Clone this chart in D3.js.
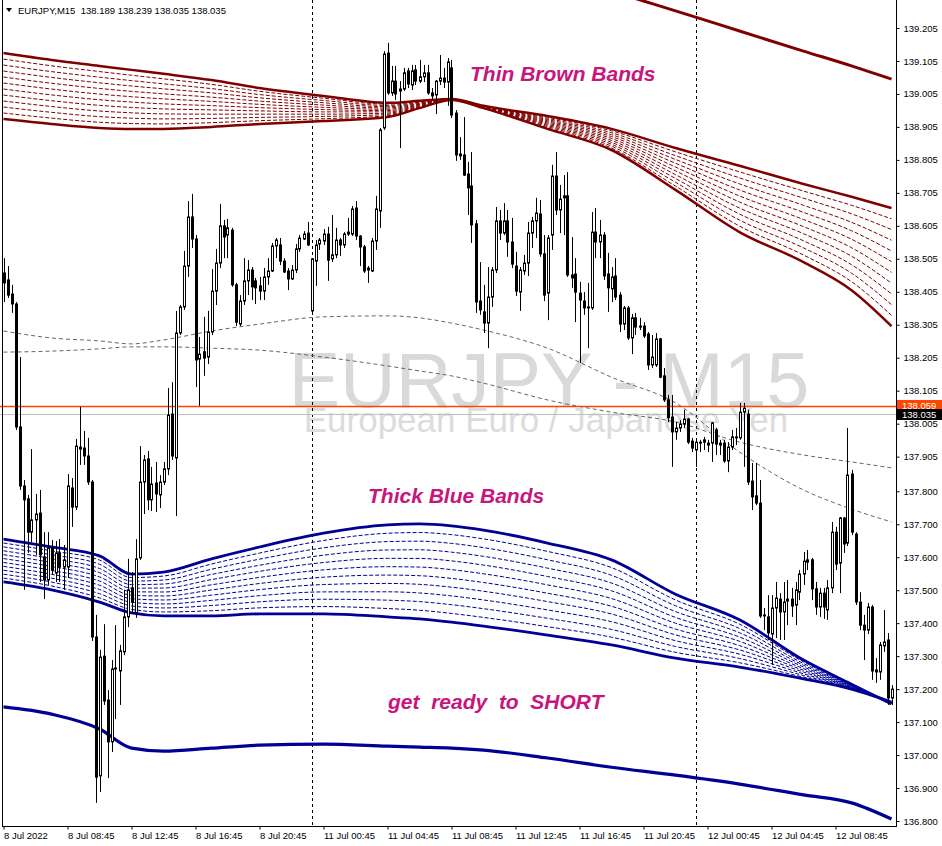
<!DOCTYPE html>
<html>
<head>
<meta charset="utf-8">
<script src="https://cdn.jsdelivr.net/npm/d3@7"></script>
<style>
html, body { margin: 0; padding: 0; background: #fff; }
svg { display: block; font-family: "Liberation Sans", Arial, sans-serif; }
</style>
</head>
<body>
<svg id="chart" width="942" height="846"></svg>
<script>
// EURJPY M15 candles, one per bar index (0 = 8 Jul 04:45)
const open = [
138.462,138.441,138.398,138.368,137.995,137.816,137.777,137.676,137.713,137.734,
137.601,137.531,137.628,137.552,137.613,137.570,137.570,137.810,137.752,137.928,
137.931,137.907,137.828,137.358,136.937,137.300,137.167,137.040,137.261,137.255,
137.313,137.419,137.507,137.431,137.598,137.828,137.898,137.774,137.825,137.789,
137.828,137.868,138.034,137.901,138.280,138.359,138.483,138.632,138.565,138.201,
138.223,138.207,138.283,138.407,138.492,138.605,138.577,138.592,138.426,138.307,
138.377,138.438,138.471,138.438,138.423,138.407,138.450,138.468,138.544,138.547,
138.498,138.468,138.444,138.471,138.535,138.565,138.583,138.347,138.498,138.550,
138.559,138.580,138.505,138.517,138.562,138.547,138.580,138.580,138.659,138.574,
138.541,138.477,138.468,138.559,138.650,138.902,139.129,139.008,139.044,139.014,
139.020,139.075,139.032,139.078,139.044,139.057,139.069,139.008,139.002,139.044,
139.053,139.041,139.084,138.947,138.823,138.820,138.762,138.726,138.611,138.377,
138.344,138.310,138.389,138.471,138.620,138.583,138.620,138.556,138.483,138.404,
138.468,138.492,138.583,138.620,138.641,138.520,138.401,138.577,138.756,138.653,
138.690,138.696,138.456,138.459,138.401,138.377,138.356,138.356,138.586,138.556,
138.577,138.459,138.414,138.453,138.395,138.307,138.356,138.265,138.326,138.301,
138.301,138.277,138.183,138.183,138.262,138.150,138.077,138.025,137.980,137.992,
138.004,138.019,137.952,137.925,137.946,137.949,137.946,137.946,137.986,137.940,
137.946,137.892,137.934,137.962,137.962,138.040,138.034,137.831,137.786,137.764,
137.422,137.419,137.367,137.446,137.473,137.434,137.467,137.473,137.455,137.494,
137.549,137.585,137.592,137.504,137.449,137.491,137.440,137.507,137.676,137.582,
137.719,137.643,137.852,137.670,137.464,137.394,137.379,137.449,137.252,137.252,
137.331,137.349,137.173];
const high = [
138.507,138.483,138.426,138.374,138.207,137.834,137.789,137.928,137.792,137.804,
137.676,137.676,137.652,137.649,137.655,137.637,137.852,137.840,137.959,138.056,
137.983,137.962,137.834,137.425,137.319,137.397,137.197,137.288,137.394,137.334,
137.501,137.595,137.555,137.655,137.937,137.910,137.922,137.874,137.889,137.849,
137.889,138.113,138.131,138.347,138.365,138.529,138.680,138.702,138.577,138.268,
138.329,138.347,138.474,138.535,138.671,138.623,138.626,138.599,138.432,138.395,
138.507,138.501,138.480,138.447,138.450,138.477,138.507,138.553,138.568,138.568,
138.507,138.477,138.486,138.550,138.577,138.589,138.617,138.507,138.562,138.568,
138.595,138.602,138.638,138.599,138.568,138.586,138.629,138.665,138.680,138.577,
138.547,138.483,138.568,138.696,138.902,139.135,139.160,139.090,139.090,139.044,
139.084,139.084,139.093,139.093,139.108,139.093,139.093,139.023,139.047,139.123,
139.084,139.114,139.108,138.956,138.874,138.935,138.799,138.829,138.623,138.495,
138.426,138.480,138.480,138.662,138.653,138.674,138.653,138.629,138.526,138.480,
138.517,138.617,138.632,138.690,138.683,138.577,138.577,138.790,138.829,138.729,
138.759,138.768,138.571,138.507,138.435,138.404,138.432,138.647,138.659,138.623,
138.586,138.523,138.480,138.507,138.404,138.362,138.362,138.338,138.341,138.326,
138.313,138.283,138.274,138.280,138.265,138.174,138.092,138.092,138.010,138.016,
138.047,138.023,137.962,137.956,137.956,137.965,137.956,138.010,137.992,137.956,
137.956,137.949,137.986,137.992,138.068,138.068,138.047,137.886,137.886,137.834,
137.446,137.485,137.485,137.525,137.491,137.525,137.531,137.507,137.525,137.561,
137.616,137.622,137.598,137.525,137.507,137.507,137.531,137.707,137.692,137.722,
137.722,137.992,137.865,137.676,137.494,137.425,137.461,137.455,137.294,137.343,
137.440,137.370,137.212];
const low = [
138.374,138.386,138.341,137.986,137.804,137.501,137.613,137.646,137.607,137.525,
137.473,137.516,137.546,137.525,137.525,137.501,137.537,137.692,137.743,137.880,
137.880,137.819,137.346,136.855,136.888,137.152,136.930,137.009,137.109,137.152,
137.303,137.388,137.431,137.416,137.592,137.731,137.743,137.740,137.737,137.749,
137.819,137.849,137.895,137.725,138.274,138.350,138.450,138.538,138.116,138.059,
138.150,138.186,138.274,138.365,138.477,138.507,138.507,138.420,138.301,138.301,
138.365,138.395,138.380,138.368,138.380,138.380,138.426,138.465,138.507,138.486,
138.462,138.410,138.441,138.462,138.526,138.562,138.544,138.341,138.423,138.532,
138.547,138.438,138.495,138.507,138.514,138.538,138.574,138.574,138.562,138.483,
138.462,138.432,138.465,138.532,138.599,138.896,139.002,138.999,138.987,138.841,
139.014,139.023,139.017,139.032,139.038,139.041,139.002,138.987,138.944,139.032,
139.023,138.969,138.932,138.802,138.805,138.756,138.638,138.553,138.341,138.335,
138.280,138.234,138.359,138.462,138.562,138.577,138.511,138.477,138.392,138.347,
138.456,138.453,138.538,138.568,138.511,138.377,138.319,138.532,138.638,138.583,
138.577,138.450,138.417,138.313,138.189,138.335,138.234,138.350,138.507,138.507,
138.441,138.344,138.374,138.380,138.283,138.289,138.259,138.216,138.274,138.289,
138.265,138.168,138.174,138.177,138.143,138.071,138.010,137.874,137.956,137.980,
137.992,137.943,137.919,137.874,137.919,137.925,137.919,137.889,137.910,137.910,
137.886,137.858,137.925,137.940,137.956,137.874,137.819,137.743,137.758,137.416,
137.379,137.349,137.273,137.355,137.349,137.349,137.394,137.419,137.394,137.470,
137.516,137.561,137.470,137.425,137.419,137.413,137.410,137.491,137.561,137.491,
137.613,137.634,137.667,137.455,137.379,137.288,137.367,137.228,137.219,137.228,
137.313,137.152,137.152];
const close = [
138.432,138.395,138.368,137.995,137.816,137.774,137.676,137.713,137.731,137.607,
137.531,137.628,137.561,137.613,137.570,137.592,137.816,137.752,137.937,137.934,
137.907,137.828,137.358,136.933,137.297,137.164,137.040,137.261,137.264,137.316,
137.419,137.501,137.464,137.595,137.828,137.895,137.774,137.822,137.792,137.828,
137.868,138.031,137.907,138.280,138.359,138.483,138.632,138.565,138.198,138.216,
138.204,138.283,138.407,138.492,138.605,138.571,138.599,138.426,138.313,138.377,
138.438,138.471,138.420,138.417,138.407,138.450,138.468,138.544,138.562,138.498,
138.465,138.444,138.471,138.535,138.568,138.580,138.547,138.505,138.547,138.562,
138.580,138.501,138.517,138.562,138.547,138.580,138.586,138.656,138.574,138.541,
138.468,138.471,138.559,138.656,138.896,139.126,139.008,139.044,139.005,139.020,
139.069,139.035,139.075,139.044,139.057,139.069,139.008,138.999,139.044,139.053,
139.041,139.102,138.941,138.820,138.817,138.759,138.720,138.608,138.374,138.350,
138.310,138.389,138.471,138.620,138.583,138.620,138.556,138.489,138.407,138.471,
138.492,138.583,138.620,138.644,138.520,138.395,138.568,138.756,138.653,138.686,
138.696,138.456,138.447,138.404,138.380,138.356,138.359,138.586,138.556,138.577,
138.453,138.417,138.450,138.389,138.307,138.356,138.265,138.326,138.298,138.298,
138.271,138.183,138.207,138.262,138.146,138.077,138.023,137.980,137.992,138.004,
138.019,137.949,137.931,137.949,137.949,137.956,137.940,138.007,137.943,137.946,
137.892,137.934,137.965,137.965,138.040,138.052,137.828,137.783,137.764,137.422,
137.425,137.370,137.446,137.476,137.434,137.464,137.473,137.452,137.501,137.549,
137.588,137.592,137.504,137.449,137.491,137.449,137.507,137.676,137.579,137.719,
137.640,137.849,137.676,137.464,137.394,137.379,137.449,137.255,137.258,137.334,
137.343,137.173,137.200];

// indicator lines, sampled at these bar indices
const bandBars   = [0, 12, 24, 32, 40, 52, 64, 80, 96, 104, 112, 120, 136, 152, 168, 184, 200, 212, 222];
const brownUpper = [139.129,139.108,139.090,139.078,139.066,139.047,139.023,138.999,138.978,138.984,138.990,138.969,138.938,138.899,138.841,138.787,138.732,138.693,138.659];
const brownLower = [138.929,138.914,138.902,138.899,138.899,138.905,138.914,138.923,138.935,138.962,138.987,138.962,138.899,138.835,138.714,138.586,138.495,138.410,138.301];
const blueUpper  = [137.655,137.631,137.604,137.549,137.555,137.595,137.631,137.673,137.698,137.701,137.695,137.682,137.643,137.592,137.488,137.410,137.288,137.215,137.155];
const blueLower  = [137.525,137.501,137.464,137.431,137.422,137.422,137.428,137.428,137.419,137.413,137.403,137.391,137.364,137.334,137.294,137.267,137.231,137.200,137.161];
const blueSlow   = [137.146,137.124,137.079,137.021,137.012,137.021,137.030,137.033,137.027,137.024,137.021,137.015,136.991,136.963,136.939,136.912,136.879,136.855,136.806];
const maFast     = [138.286,138.265,138.256,138.247,138.259,138.286,138.307,138.329,138.332,138.326,138.310,138.289,138.234,138.146,138.068,137.919,137.804,137.746,137.707];
const maSlow     = [138.222,138.225,138.232,138.238,138.238,138.234,138.228,138.207,138.180,138.165,138.150,138.128,138.077,138.040,138.010,137.949,137.910,137.889,137.871];
const brownSlowBars = [152, 160, 168, 184, 200, 212, 222];
const brownSlow     = [139.317,139.287,139.257,139.196,139.135,139.090,139.050];
const bandSteps = 10; // dashed lines drawn inside each band

const yTickLabels = ["139.205","139.105","139.005","138.905","138.805","138.705","138.605","138.505","138.405","138.305","138.205","138.105","138.005","137.905","137.800","137.700","137.600","137.500","137.400","137.300","137.200","137.100","137.000","136.900","136.800"];
const xTickBars = [0, 16, 32, 48, 64, 80, 96, 112, 128, 144, 160, 176, 192, 208];
const xTickLabels = ["8 Jul 2022","8 Jul 08:45","8 Jul 12:45","8 Jul 16:45","8 Jul 20:45","11 Jul 00:45","11 Jul 04:45","11 Jul 08:45","11 Jul 12:45","11 Jul 16:45","11 Jul 20:45","12 Jul 00:45","12 Jul 04:45","12 Jul 08:45"];
const daySeparators = [77, 173];
const askPrice = 138.059, bidPrice = 138.035;
const header = "EURJPY,M15  138.189 138.239 138.035 138.035";

const W = 942, H = 846;
const svg = d3.select("#chart");
const plotRight = 896, plotBottom = 826;
const x = d3.scaleLinear().domain([0, 222]).range([3.5, 891.5]);
const y = d3.scaleLinear().domain([136.800, 139.205]).range([821, 28]);

svg.append("defs").append("clipPath").attr("id", "plotclip")
  .append("rect").attr("x", 0).attr("y", 0).attr("width", plotRight).attr("height", plotBottom);

// watermark
svg.append("text").attr("x", 549).attr("y", 407).attr("text-anchor", "middle")
  .attr("font-size", 77).attr("fill", "#d9d9d9").text("EURJPY - M15");
svg.append("text").attr("x", 546).attr("y", 432).attr("text-anchor", "middle")
  .attr("font-size", 35).attr("fill", "#dcdcdc").text("European Euro / Japanese Yen");

const g = svg.append("g").attr("clip-path", "url(#plotclip)");

// day separators
g.selectAll("line.sep").data(daySeparators).enter().append("line")
  .attr("x1", d => Math.round(x(d)) + 0.5).attr("x2", d => Math.round(x(d)) + 0.5)
  .attr("y1", 0).attr("y2", plotBottom)
  .attr("stroke", "#000").attr("stroke-width", 1).attr("stroke-dasharray", "3,3");

// price lines
g.append("line").attr("x1", 0).attr("x2", plotRight).attr("y1", Math.round(y(bidPrice)) + 0.5).attr("y2", Math.round(y(bidPrice)) + 0.5)
  .attr("stroke", "#c0c0c0").attr("stroke-width", 1);
g.append("line").attr("x1", 0).attr("x2", plotRight).attr("y1", Math.round(y(askPrice)) + 0.5).attr("y2", Math.round(y(askPrice)) + 0.5)
  .attr("stroke", "#ff4500").attr("stroke-width", 1.3);

const line = d3.line().x(d => x(d[0])).y(d => y(d[1])).curve(d3.curveMonotoneX);
const pts = (bars, vals) => bars.map((b, i) => [b, vals[i]]);

function drawBand(upper, lower, color, width) {
  for (let k = 1; k <= bandSteps; k++) {
    const mid = bandBars.map((b, i) => [b, upper[i] + (lower[i] - upper[i]) * k / (bandSteps + 1)]);
    g.append("path").attr("d", line(mid)).attr("fill", "none")
      .attr("stroke", color).attr("stroke-width", 1).attr("stroke-dasharray", "4,2");
  }
  [upper, lower].forEach(v => g.append("path").attr("d", line(pts(bandBars, v))).attr("fill", "none")
    .attr("stroke", color).attr("stroke-width", width));
}
drawBand(brownUpper, brownLower, "#800000", 2.5);
drawBand(blueUpper, blueLower, "#000096", 2.8);
g.append("path").attr("d", line(pts(bandBars, blueSlow))).attr("fill", "none").attr("stroke", "#000096").attr("stroke-width", 3.2);
g.append("path").attr("d", line(pts(brownSlowBars, brownSlow))).attr("fill", "none").attr("stroke", "#800000").attr("stroke-width", 3);

[maFast, maSlow].forEach(v => g.append("path").attr("d", line(pts(bandBars, v))).attr("fill", "none")
  .attr("stroke", "#666").attr("stroke-width", 1).attr("stroke-dasharray", "4,3"));

// candles
const bars = open.map((o, i) => ({ i, o, h: high[i], l: low[i], c: close[i] }));
const cg = g.selectAll("g.candle").data(bars).enter().append("g");
cg.append("line")
  .attr("x1", d => Math.round(x(d.i)) + 0.5).attr("x2", d => Math.round(x(d.i)) + 0.5)
  .attr("y1", d => y(d.h)).attr("y2", d => y(d.l))
  .attr("stroke", "#000").attr("stroke-width", 1);
cg.append("rect")
  .attr("x", d => Math.round(x(d.i)) - 0.5).attr("width", 2)
  .attr("y", d => y(Math.max(d.o, d.c)))
  .attr("height", d => Math.max(0.5, Math.abs(y(d.o) - y(d.c))))
  .attr("fill", d => d.c > d.o ? "#fff" : "#000")
  .attr("stroke", "#000").attr("stroke-width", 1);

// annotations
const notes = [
  { t: "Thin Brown Bands", x: 470, y: 81 },
  { t: "Thick Blue Bands", x: 368, y: 503 },
  { t: "get  ready  to  SHORT", x: 388, y: 709 }
];
svg.selectAll("text.note").data(notes).enter().append("text")
  .attr("x", d => d.x).attr("y", d => d.y).text(d => d.t)
  .attr("font-size", 21).attr("font-weight", "bold").attr("font-style", "italic")
  .attr("fill", "#c8157d").style("white-space", "pre");

// frame
svg.append("line").attr("x1", 2.5).attr("x2", 2.5).attr("y1", 0).attr("y2", plotBottom).attr("stroke", "#000");
svg.append("line").attr("x1", plotRight + 0.5).attr("x2", plotRight + 0.5).attr("y1", 0).attr("y2", plotBottom + 0.5).attr("stroke", "#000");
svg.append("line").attr("x1", 2).attr("x2", plotRight + 1).attr("y1", plotBottom + 0.5).attr("y2", plotBottom + 0.5).attr("stroke", "#000");

// axes
const yAxis = d3.axisRight(y).tickValues(yTickLabels.map(Number)).tickFormat((d, i) => yTickLabels[i]).tickSize(3).tickPadding(4);
const ya = svg.append("g").attr("transform", `translate(${plotRight + 0.5},0)`).call(yAxis);
ya.select(".domain").remove();
ya.selectAll("text").attr("font-size", 9.5).attr("font-family", "Liberation Sans, Arial, sans-serif").attr("fill", "#000");

const xAxis = d3.axisBottom(x).tickValues(xTickBars).tickFormat((d, i) => xTickLabels[i]).tickSize(3).tickPadding(3);
const xa = svg.append("g").attr("transform", `translate(0,${plotBottom + 0.5})`).call(xAxis);
xa.select(".domain").remove();
xa.selectAll("text").attr("text-anchor", "start").attr("font-size", 9.5).attr("font-family", "Liberation Sans, Arial, sans-serif").attr("fill", "#000");

// current price labels (ask box sits just above the bid box)
const askY = Math.round(y(askPrice)), bidY = Math.round(y(bidPrice));
svg.append("rect").attr("x", plotRight + 1).attr("y", askY - 6).attr("width", W - plotRight).attr("height", bidY - askY + 1).attr("fill", "#ff4500");
svg.append("text").attr("x", plotRight + 6).attr("y", askY + 3).attr("font-size", 9.5).attr("fill", "#fff").text(askPrice.toFixed(3));
svg.append("rect").attr("x", plotRight + 1).attr("y", bidY - 5).attr("width", W - plotRight).attr("height", 11).attr("fill", "#000");
svg.append("text").attr("x", plotRight + 6).attr("y", bidY + 4).attr("font-size", 9.5).attr("fill", "#fff").text(bidPrice.toFixed(3));

// header
svg.append("path").attr("d", "M6,8 L12,8 L9,12 Z").attr("fill", "#000");
svg.append("text").attr("x", 18).attr("y", 14).attr("font-size", 9.5).attr("fill", "#000")
  .style("white-space", "pre").text(header);
</script>
</body>
</html>
